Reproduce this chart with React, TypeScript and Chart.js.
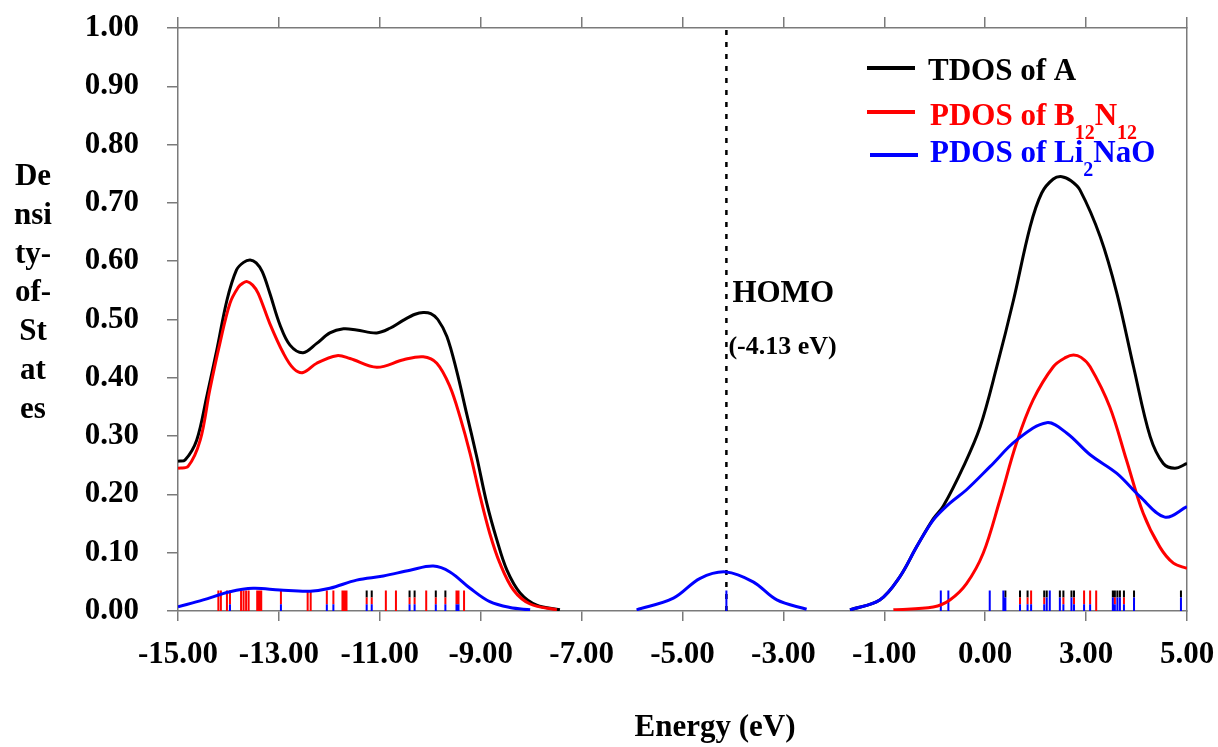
import React, { useEffect, useRef } from "react";
import { Chart, registerables } from "chart.js";

Chart.register(...registerables);

const FONT = "'Liberation Serif', 'Times New Roman', serif";

// ---------- data ----------
const xTickLabels = ["-15.00", "-13.00", "-11.00", "-9.00", "-7.00", "-5.00", "-3.00", "-1.00", "0.00", "3.00", "5.00"];

// TDOS of A (null value = break in the curve)
const tdosEnergy = [-15, -14.86, -14.63, -14.43, -14.23, -14.03, -13.84, -13.7, -13.57, -13.45, -13.33, -13.18, -12.98, -12.78, -12.52, -12.25, -11.99, -11.72, -11.46, -11.06, -10.8, -10.53, -10.3, -10.14, -9.99, -9.85, -9.67, -9.48, -9.28, -9.08, -8.88, -8.68, -8.48, -8.22, -7.89, -7.43, -4.5, -1.68, -1.09, -0.69, -0.36, -0.03, 0.17, 0.57, 0.9, 1.23, 1.56, 1.89, 2.12, 2.35, 2.52, 2.7, 2.88, 3.28, 3.61, 3.94, 4.27, 4.53, 4.76, 5.0];
const tdosValues = [0.257, 0.259, 0.293, 0.368, 0.448, 0.533, 0.585, 0.598, 0.602, 0.597, 0.582, 0.545, 0.491, 0.456, 0.443, 0.459, 0.477, 0.484, 0.482, 0.477, 0.485, 0.499, 0.509, 0.512, 0.51, 0.5, 0.471, 0.413, 0.339, 0.265, 0.185, 0.122, 0.07, 0.031, 0.01, 0.002, null, 0.002, 0.019, 0.059, 0.11, 0.158, 0.18, 0.248, 0.316, 0.419, 0.533, 0.659, 0.717, 0.741, 0.745, 0.738, 0.722, 0.642, 0.545, 0.419, 0.299, 0.253, 0.245, 0.253];

// PDOS of B12N12
const pdosBNEnergy = [-15, -14.8, -14.56, -14.37, -14.17, -13.97, -13.8, -13.72, -13.63, -13.52, -13.41, -13.18, -12.91, -12.71, -12.52, -12.25, -11.85, -11.59, -11.06, -10.53, -10.14, -9.87, -9.61, -9.41, -9.21, -9.01, -8.82, -8.62, -8.35, -8.02, -7.49, -4.0, -0.82, -0.03, 0.3, 0.63, 0.96, 1.29, 1.62, 1.95, 2.35, 2.6, 2.75, 2.9, 3.08, 3.47, 3.8, 4.13, 4.46, 4.73, 5.0];
const pdosBNValues = [0.245, 0.248, 0.293, 0.379, 0.459, 0.528, 0.556, 0.562, 0.565, 0.559, 0.545, 0.493, 0.442, 0.416, 0.409, 0.425, 0.438, 0.433, 0.418, 0.431, 0.436, 0.425, 0.385, 0.333, 0.27, 0.196, 0.133, 0.082, 0.036, 0.012, 0.002, null, 0.002, 0.007, 0.019, 0.047, 0.099, 0.19, 0.288, 0.362, 0.419, 0.435, 0.439, 0.435, 0.419, 0.35, 0.259, 0.168, 0.11, 0.082, 0.073];

// PDOS of Li2NaO
const pdosLiEnergy = [-15, -14.5, -13.97, -13.51, -12.98, -12.38, -11.99, -11.46, -10.93, -10.4, -9.94, -9.61, -9.21, -8.82, -8.42, -8.02, -7.0, -5.91, -5.18, -4.65, -4.14, -3.6, -3.13, -2.54, -2.1, -1.68, -1.09, -0.69, -0.36, -0.03, 0.3, 0.63, 1.1, 1.62, 2.22, 2.62, 3.08, 3.61, 4.07, 4.56, 5.0];
const pdosLiValues = [0.007, 0.019, 0.033, 0.039, 0.036, 0.034, 0.039, 0.053, 0.06, 0.07, 0.077, 0.067, 0.039, 0.016, 0.006, 0.002, null, 0.002, 0.022, 0.056, 0.067, 0.05, 0.019, 0.003, null, 0.002, 0.019, 0.059, 0.11, 0.156, 0.185, 0.208, 0.248, 0.293, 0.323, 0.305, 0.268, 0.236, 0.196, 0.161, 0.179];

// eigenvalue sticks, grouped by colour composition (bottom / middle / top thirds)
const sticksRed = [-14.2, -14.15, -14.03, -13.75, -13.7, -13.65, -13.6, -13.43, -13.39, -13.35, -12.43, -12.37, -11.74, -11.7, -11.66, -10.88, -10.68, -10.08, -9.33, 3.2];
const sticksRedBlue = [-13.97, -12.96, -12.05, -11.92, -9.48, -9.44, 1.91, 2.96, 3.08];
const sticksBlackRedBlue = [-11.26, -11.16, -10.41, -10.31, -9.89, -9.7, 1.69, 1.84, 2.17, 2.55, 2.76, 3.57, 3.75];
const sticksBlackBlue = [1.4, 2.22, 2.48, 2.71, 3.53, 3.62, 3.67, 3.95, 4.88];
const sticksBlue = [-4.13, 0.12, 0.27, 1.09, 1.36, 2.28];
const stickHeight = 0.035;

const HOMO_ENERGY = -4.13;
const homoLabel = "HOMO";
const homoValueLabel = "(-4.13 eV)";
const yTitleLines = ["De", "nsi", "ty-", "of-", "St", "at", "es"];
const xTitle = "Energy (eV)";

const BLACK = "#000000";
const RED = "#ff0000";
const BLUE = "#0000ff";
const AXIS = "#7a7a7a";

const legendEntries = [
  { color: BLACK, parts: [{ t: "TDOS of A", sub: false }] },
  { color: RED, parts: [{ t: "PDOS of B", sub: false }, { t: "12", sub: true }, { t: "N", sub: false }, { t: "12", sub: true }] },
  { color: BLUE, parts: [{ t: "PDOS of Li", sub: false }, { t: "2", sub: true }, { t: "NaO", sub: false }] },
];

// ---------- helpers ----------
function toPoints(es: number[], vs: (number | null)[]) {
  return es.map((e, i) => ({ x: e, y: vs[i] }));
}

type Seg = { e: number; a: number; b: number };
function buildStickSegments() {
  const h = stickHeight;
  const t1 = h / 3, t2 = (2 * h) / 3;
  const black: Seg[] = [], red: Seg[] = [], blue: Seg[] = [];
  sticksRed.forEach((e) => red.push({ e, a: 0, b: h }));
  sticksRedBlue.forEach((e) => { blue.push({ e, a: 0, b: t1 }); red.push({ e, a: t1, b: h }); });
  sticksBlackRedBlue.forEach((e) => { blue.push({ e, a: 0, b: t1 }); red.push({ e, a: t1, b: t2 }); black.push({ e, a: t2, b: h }); });
  sticksBlackBlue.forEach((e) => { blue.push({ e, a: 0, b: t2 }); black.push({ e, a: t2, b: h }); });
  sticksBlue.forEach((e) => blue.push({ e, a: 0, b: h }));
  const toData = (segs: Seg[]) => {
    segs.sort((p, q) => p.e - q.e);
    const out: { x: number; y: number | null }[] = [];
    segs.forEach((s) => { out.push({ x: s.e, y: s.a }, { x: s.e, y: s.b }, { x: s.e, y: null }); });
    return out;
  };
  return { black: toData(black), red: toData(red), blue: toData(blue) };
}

const annotationPlugin = {
  id: "dosAnnotations",
  afterDraw(chart: any) {
    const { ctx, scales, chartArea } = chart;
    const xs = scales.x, ys = scales.y;
    ctx.save();
    ctx.fillStyle = "#000";
    ctx.textBaseline = "alphabetic";
    ctx.font = `bold 31px ${FONT}`;
    // y title (stacked lines)
    ctx.textAlign = "center";
    yTitleLines.forEach((t, i) => ctx.fillText(t, 33, 185 + i * 38.8));
    // x title
    ctx.fillText(xTitle, 715, 736);
    // HOMO labels
    const hx = xs.getPixelForValue(HOMO_ENERGY);
    ctx.textAlign = "left";
    ctx.fillText(homoLabel, hx + 6, ys.getPixelForValue(0.53));
    ctx.font = `bold 26px ${FONT}`;
    ctx.fillText(homoValueLabel, hx + 2, ys.getPixelForValue(0.44));
    // legend
    const rows = [
      { lineY: 68, baseY: 80, x0: 867, x1: 915, tx: 928 },
      { lineY: 112, baseY: 125, x0: 867, x1: 915, tx: 930 },
      { lineY: 155, baseY: 162, x0: 870, x1: 918, tx: 930 },
    ];
    const dx = chartArea.right - 1187;
    const dy = chartArea.top - 28;
    legendEntries.forEach((entry, i) => {
      const r = rows[i];
      ctx.strokeStyle = entry.color;
      ctx.lineWidth = 4;
      ctx.beginPath();
      ctx.moveTo(r.x0 + dx, r.lineY + dy);
      ctx.lineTo(r.x1 + dx, r.lineY + dy);
      ctx.stroke();
      ctx.fillStyle = entry.color;
      let x = r.tx + dx;
      entry.parts.forEach((p) => {
        ctx.font = p.sub ? `bold 20px ${FONT}` : `bold 31px ${FONT}`;
        ctx.fillText(p.t, x, r.baseY + dy + (p.sub ? 14 : 0));
        x += ctx.measureText(p.t).width;
      });
    });
    ctx.restore();
  },
};

const zeroPad = (s: any) => {
  s.paddingTop = 0;
  s.paddingBottom = 0;
  s.paddingLeft = 0;
  s.paddingRight = 0;
};

export default function App() {
  const canvasRef = useRef<HTMLCanvasElement | null>(null);

  useEffect(() => {
    if (!canvasRef.current) return;
    Chart.defaults.font.family = FONT;
    const sticks = buildStickSegments();
    const tickFont = { size: 31, weight: "bold" as const, family: FONT };
    const curve = { borderWidth: 3, pointRadius: 0, tension: 0.35, spanGaps: false };

    const chart = new Chart(canvasRef.current, {
      type: "line",
      data: {
        datasets: [
          { label: "PDOS of Li2NaO", data: toPoints(pdosLiEnergy, pdosLiValues), borderColor: BLUE, ...curve },
          { label: "PDOS of B12N12", data: toPoints(pdosBNEnergy, pdosBNValues), borderColor: RED, ...curve },
          { label: "TDOS of A", data: toPoints(tdosEnergy, tdosValues), borderColor: BLACK, ...curve },
          { label: "sticks blue", data: sticks.blue, borderColor: BLUE, borderWidth: 2, pointRadius: 0, tension: 0, spanGaps: false },
          { label: "sticks red", data: sticks.red, borderColor: RED, borderWidth: 2, pointRadius: 0, tension: 0, spanGaps: false },
          { label: "sticks black", data: sticks.black, borderColor: BLACK, borderWidth: 2, pointRadius: 0, tension: 0, spanGaps: false },
          { label: "HOMO", data: [{ x: HOMO_ENERGY, y: 0 }, { x: HOMO_ENERGY, y: 1 }], borderColor: BLACK, borderWidth: 2.5, borderDash: [5, 7], pointRadius: 0, tension: 0 },
        ] as any,
      },
      options: {
        animation: false,
        responsive: false,
        maintainAspectRatio: false,
        layout: { padding: { top: 17, right: 31, bottom: 0, left: 0 } },
        plugins: { legend: { display: false }, tooltip: { enabled: false } },
        events: [],
        scales: {
          x: {
            type: "linear",
            position: "bottom",
            min: -15,
            max: 5,
            ticks: {
              stepSize: 2,
              autoSkip: false,
              maxRotation: 0,
              padding: 15,
              color: "#000",
              font: tickFont,
              callback: (_v: any, i: number) => xTickLabels[i] ?? "",
            },
            grid: { drawOnChartArea: false, drawTicks: true, tickLength: 10, color: AXIS, lineWidth: 1.5 },
            border: { display: true, color: AXIS, width: 1.5 },
            afterFit: (s: any) => { s.height = 136; zeroPad(s); },
          },
          xTop: {
            type: "linear",
            position: "top",
            min: -15,
            max: 5,
            ticks: { stepSize: 2, display: false },
            grid: { drawOnChartArea: false, drawTicks: true, tickLength: 11, color: AXIS, lineWidth: 1.5 },
            border: { display: true, color: AXIS, width: 1.5 },
            afterFit: (s: any) => { s.height = 11; zeroPad(s); },
          },
          y: {
            type: "linear",
            position: "left",
            min: 0,
            max: 1,
            ticks: {
              stepSize: 0.1,
              padding: 28,
              color: "#000",
              font: tickFont,
              callback: (v: any) => Number(v).toFixed(2),
            },
            grid: { drawOnChartArea: false, drawTicks: true, tickLength: 11, color: AXIS, lineWidth: 1.5 },
            border: { display: true, color: AXIS, width: 1.5 },
            afterFit: (s: any) => { s.width = 178; zeroPad(s); },
          },
          yRight: {
            type: "linear",
            position: "right",
            min: 0,
            max: 1,
            ticks: { display: false },
            grid: { display: false, drawTicks: false },
            border: { display: true, color: AXIS, width: 1.5 },
            afterFit: (s: any) => { s.width = 0; zeroPad(s); },
          },
        },
      } as any,
      plugins: [annotationPlugin],
    });
    return () => chart.destroy();
  }, []);

  return (
    <div style={{ position: "absolute", left: 0, top: 0, width: 1218, height: 747, background: "#fff" }}>
      <canvas ref={canvasRef} width={1218} height={747} style={{ width: 1218, height: 747, display: "block" }} />
    </div>
  );
}
